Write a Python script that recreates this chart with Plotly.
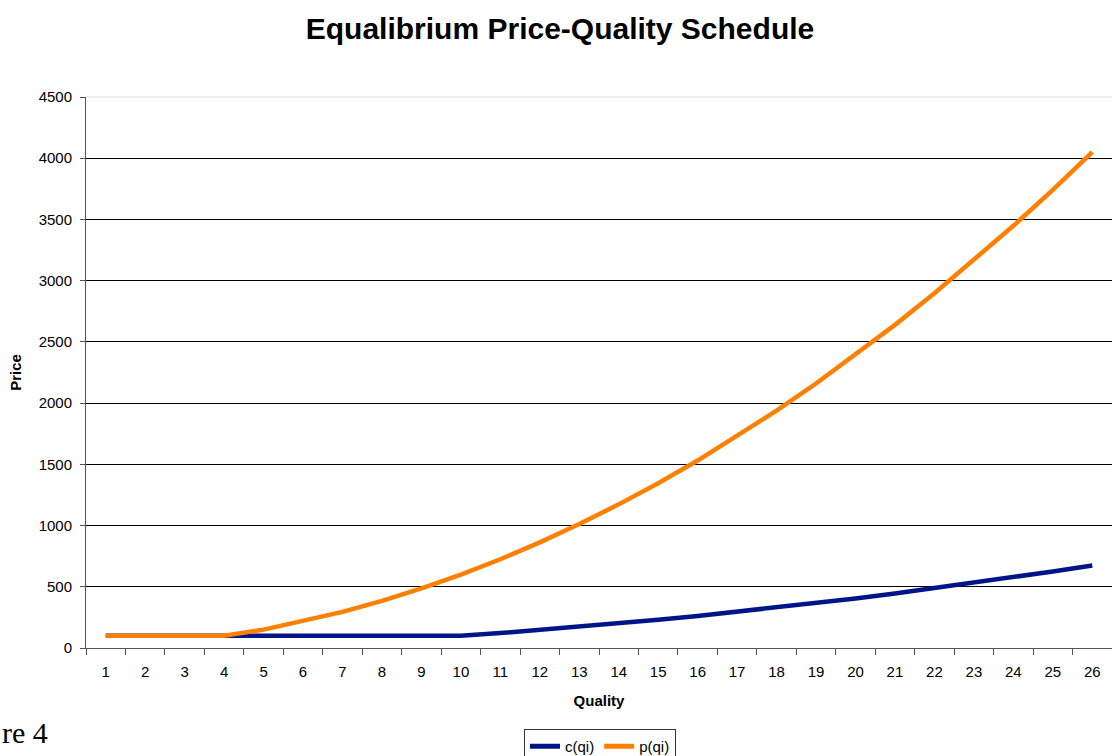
import plotly.graph_objects as go

quality = list(range(1, 27))
c_qi = [100, 100, 100, 100, 100, 100, 100, 100, 100, 100,
        122, 147, 173, 200, 230, 261, 295, 330, 366, 405,
        445, 488, 532, 577, 625, 674]
p_qi = [100, 100, 100, 100, 150, 220, 295, 385, 486, 600,
        725, 863, 1012, 1173, 1346, 1531, 1730, 1939, 2160, 2394,
        2639, 2897, 3167, 3448, 3741, 4050]
y_ticks = [0, 500, 1000, 1500, 2000, 2500, 3000, 3500, 4000, 4500]

FONT = "Liberation Sans, Arial, sans-serif"

fig = go.Figure()
fig.add_trace(go.Scatter(x=quality, y=c_qi, mode="lines", name="c(qi)",
                         line=dict(color="#001489", width=4.5)))
fig.add_trace(go.Scatter(x=quality, y=p_qi, mode="lines", name="p(qi)",
                         line=dict(color="#FF8000", width=4.5)))

fig.update_layout(
    width=1112, height=756,
    margin=dict(l=86, r=0, t=97, b=108),
    paper_bgcolor="white", plot_bgcolor="white",
    font=dict(family=FONT, color="black", size=15),
    title=dict(text="<b>Equalibrium Price-Quality Schedule</b>",
               font=dict(size=30, family=FONT, color="black"),
               x=560 / 1112, xanchor="center", xref="container",
               y=1 - 28 / 756, yanchor="middle", yref="container"),
    showlegend=True,
    legend=dict(orientation="h", x=600 / 1112, xanchor="center",
                xref="container",
                y=1 - 729 / 756, yanchor="top", yref="container",
                bordercolor="#333333", borderwidth=1,
                font=dict(size=15, family=FONT),
                tracegroupgap=0, itemsizing="constant"),
)

fig.update_xaxes(
    range=[0.5, 26.5], tickmode="array", tickvals=quality,
    ticktext=[str(q) for q in quality],
    ticks="", showgrid=False, zeroline=False,
    showline=True, linecolor="#555555", linewidth=1,
    tickfont=dict(size=15, family=FONT),
    ticklabelstandoff=10,
    minor=dict(ticks="outside", tick0=0.5, dtick=1, ticklen=6,
               tickcolor="#555555", showgrid=False),
    title=dict(text="<b>Quality</b>", font=dict(size=15, family=FONT),
               standoff=16),
)
fig.update_yaxes(
    range=[0, 4500], tickmode="array", tickvals=y_ticks,
    ticks="outside", ticklen=5, tickcolor="#555555",
    showgrid=True, gridcolor="black", gridwidth=1,
    zeroline=False, showline=True, linecolor="#555555", linewidth=1,
    tickfont=dict(size=15, family=FONT),
    ticklabelstandoff=5,
    title=dict(text="<b>Price</b>", font=dict(size=15, family=FONT),
               standoff=13),
)

# top border of plot area (light grey, as at 4500)
fig.add_shape(type="line", xref="paper", yref="paper", x0=0, x1=1, y0=1, y1=1,
              line=dict(color="#DDDDDD", width=1), layer="above")

fig.add_annotation(text="re 4", xref="paper", yref="paper",
                   x=-86 / 1026, xanchor="left", y=-(732 - 648) / 551,
                   yanchor="middle", showarrow=False,
                   font=dict(family="Liberation Serif, Times New Roman, serif",
                             size=30, color="black"))

fig.write_html("out.html",
               config={"displayModeBar": False},
               post_script="document.body.style.margin='0';"
                           "document.body.style.overflow='hidden';")
